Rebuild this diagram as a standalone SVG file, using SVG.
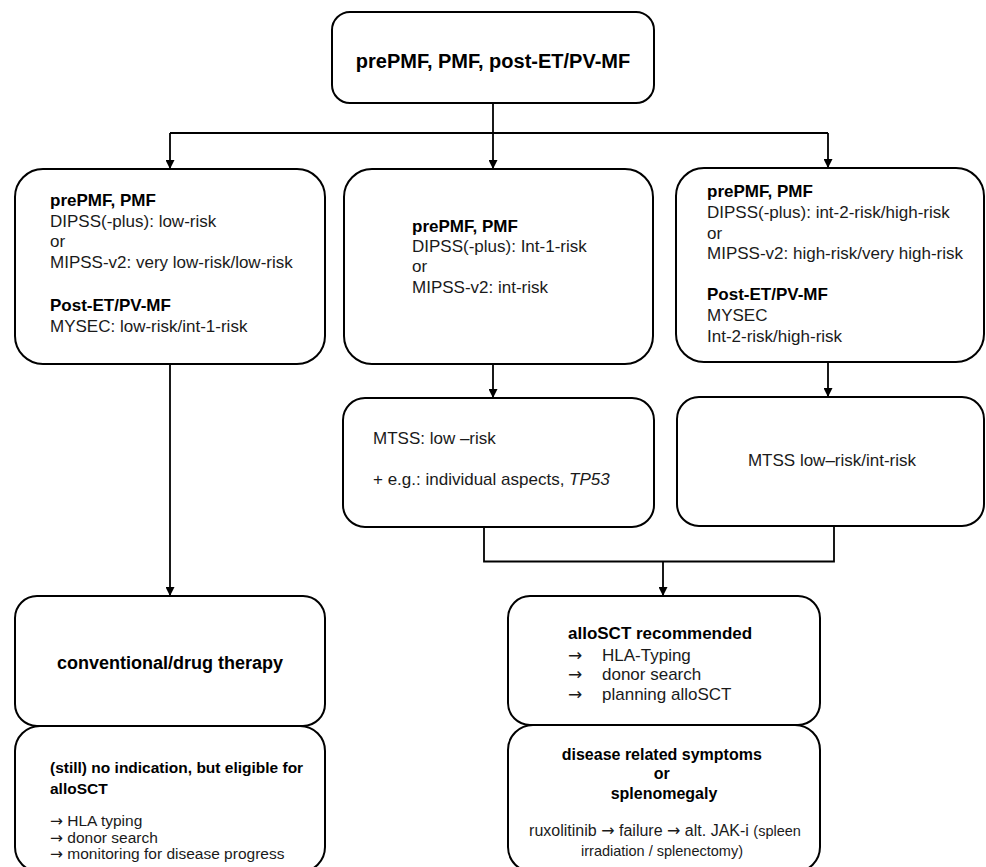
<svg xmlns="http://www.w3.org/2000/svg" width="986" height="867" viewBox="0 0 986 867">
<defs>
<marker id="arr" viewBox="0 0 10 10" refX="10" refY="5" markerWidth="9" markerHeight="9" markerUnits="userSpaceOnUse" orient="auto">
<path d="M0,0 L10,5 L0,10 z" fill="#000"/>
</marker>
<style>
.box{fill:#fff;stroke:#000;stroke-width:2}
.t{font-family:"Liberation Sans",Arial,sans-serif;fill:#1a1a1a}
.b{font-weight:bold;fill:#000}
.c{text-anchor:middle}
.s17{font-size:17px}
.s16{font-size:16px}
.s15{font-size:15.5px}
.ar{font-family:"DejaVu Sans",sans-serif}
.ln{fill:none;stroke:#000;stroke-width:1.8}
</style>
</defs>
<rect width="986" height="867" fill="#fff"/>

<g id="connectors">
<polyline class="ln" points="493,103 493,133"/>
<polyline class="ln" points="170,133 828,133"/>
<line class="ln" x1="170" y1="133" x2="170" y2="169" marker-end="url(#arr)"/>
<line class="ln" x1="493" y1="133" x2="493" y2="169" marker-end="url(#arr)"/>
<line class="ln" x1="828" y1="133" x2="828" y2="168" marker-end="url(#arr)"/>
<line class="ln" x1="493" y1="364" x2="493" y2="398" marker-end="url(#arr)"/>
<line class="ln" x1="828" y1="362" x2="828" y2="397" marker-end="url(#arr)"/>
<line class="ln" x1="170" y1="364" x2="170" y2="596" marker-end="url(#arr)"/>
<polyline class="ln" points="484,527 484,561.5 834,561.5 834,526"/>
<line class="ln" x1="663" y1="561.5" x2="663" y2="596" marker-end="url(#arr)"/>
</g>

<g id="top">
<rect class="box" x="332" y="12" width="322" height="91" rx="18"/>
<text class="t b c" x="493" y="68" font-size="20">prePMF, PMF, post-ET/PV-MF</text>
</g>

<g id="left">
<rect class="box" x="15" y="169" width="310" height="195" rx="28"/>
<text class="t s17" x="50">
<tspan class="b" x="50" y="206">prePMF, PMF</tspan>
<tspan x="50" y="226.5">DIPSS(-plus): low-risk</tspan>
<tspan x="50" y="247">or</tspan>
<tspan x="50" y="267.5">MIPSS-v2: very low-risk/low-risk</tspan>
<tspan class="b" x="50" y="311">Post-ET/PV-MF</tspan>
<tspan x="50" y="331.5">MYSEC: low-risk/int-1-risk</tspan>
</text>
</g>

<g id="middle">
<rect class="box" x="344" y="169" width="309" height="195" rx="28"/>
<text class="t s17">
<tspan class="b" x="412" y="231.5">prePMF, PMF</tspan>
<tspan x="412" y="252">DIPSS(-plus): Int-1-risk</tspan>
<tspan x="412" y="272">or</tspan>
<tspan x="412" y="292.5">MIPSS-v2: int-risk</tspan>
</text>
</g>

<g id="right">
<rect class="box" x="676" y="168" width="308" height="194" rx="28"/>
<text class="t s17">
<tspan class="b" x="707" y="197">prePMF, PMF</tspan>
<tspan x="707" y="218">DIPSS(-plus): int-2-risk/high-risk</tspan>
<tspan x="707" y="238.5">or</tspan>
<tspan x="707" y="259">MIPSS-v2: high-risk/very high-risk</tspan>
<tspan class="b" x="707" y="300">Post-ET/PV-MF</tspan>
<tspan x="707" y="321">MYSEC</tspan>
<tspan x="707" y="342">Int-2-risk/high-risk</tspan>
</text>
</g>

<g id="mtss-low">
<rect class="box" x="343" y="398" width="311" height="129" rx="22"/>
<text class="t s17">
<tspan x="373" y="443.5">MTSS: low –risk</tspan>
<tspan x="373" y="484.5">+ e.g.: individual aspects, <tspan font-style="italic">TP53</tspan></tspan>
</text>
</g>

<g id="mtss-int">
<rect class="box" x="677" y="397" width="307" height="129" rx="22"/>
<text class="t s17 c" x="832" y="466">MTSS low–risk/int-risk</text>
</g>

<g id="conventional">
<rect class="box" x="15" y="596" width="310" height="130" rx="22"/>
<text class="t b c" x="170" y="669" font-size="18">conventional/drug therapy</text>
</g>

<g id="eligible">
<rect class="box" x="15" y="726" width="310" height="146" rx="25"/>
<text class="t s15">
<tspan class="b" x="50" y="773">(still) no indication, but eligible for</tspan>
<tspan class="b" x="50" y="794">alloSCT</tspan>
<tspan x="50" y="826"><tspan class="ar">→</tspan> HLA typing</tspan>
<tspan x="50" y="842.5"><tspan class="ar">→</tspan> donor search</tspan>
<tspan x="50" y="859"><tspan class="ar">→</tspan> monitoring for disease progress</tspan>
</text>
</g>

<g id="allosct">
<rect class="box" x="508" y="596" width="312" height="129" rx="22"/>
<text class="t s17">
<tspan class="b" x="568" y="639">alloSCT recommended</tspan>
<tspan class="ar" x="568" y="660.5">→</tspan><tspan x="602" y="660.5">HLA-Typing</tspan>
<tspan class="ar" x="568" y="680">→</tspan><tspan x="602" y="680">donor search</tspan>
<tspan class="ar" x="568" y="700">→</tspan><tspan x="602" y="700">planning alloSCT</tspan>
</text>
</g>

<g id="symptoms">
<rect class="box" x="508" y="725" width="312" height="147" rx="25"/>
<text class="t b c s16" x="664">
<tspan x="664" y="760">disease related symptoms</tspan>
<tspan x="664" y="779">or</tspan>
<tspan x="664" y="798.5">splenomegaly</tspan>
</text>
<text class="t c s16" x="665" y="836">ruxolitinib <tspan class="ar">→</tspan> failure <tspan class="ar">→</tspan> alt. JAK-i <tspan font-size="14.5">(spleen</tspan></text>
<text class="t c" x="662" y="856" font-size="14.5">irradiation / splenectomy)</text>
</g>
</svg>
